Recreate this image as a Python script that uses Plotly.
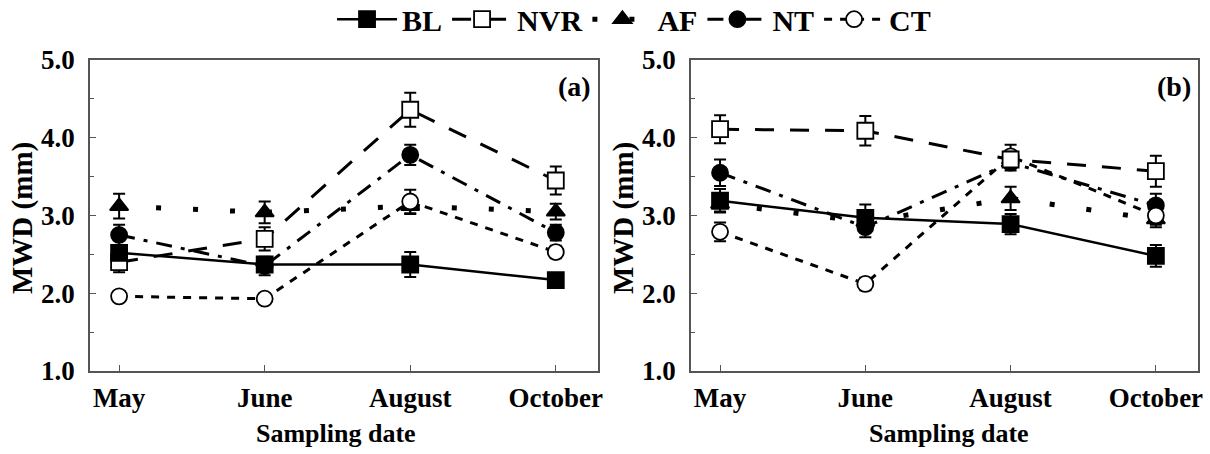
import plotly.graph_objects as go
from plotly.subplots import make_subplots

dates = ["May", "June", "August", "October"]

# Panel (a)
a_BL = [2.52, 2.37, 2.37, 2.17]
a_BL_err = [0.08, 0.07, 0.16, 0.07]
a_NVR = [2.40, 2.70, 4.36, 3.45]
a_NVR_err = [0.13, 0.15, 0.22, 0.18]
a_AF = [3.12, 3.04, 3.12, 3.05]
a_AF_err = [0.16, 0.14, 0.10, 0.10]
a_NT = [2.75, 2.35, 3.78, 2.78]
a_NT_err = [0.13, 0.12, 0.13, 0.10]
a_CT = [1.96, 1.93, 3.18, 2.53]
a_CT_err = [0.05, 0.05, 0.15, 0.08]

# Panel (b)
b_BL = [3.19, 2.97, 2.89, 2.48]
b_BL_err = [0.15, 0.17, 0.13, 0.14]
b_NVR = [4.11, 4.09, 3.72, 3.57]
b_NVR_err = [0.18, 0.19, 0.10, 0.20]
b_AF = [3.15, 2.92, 3.22, 2.95]
b_AF_err = [0.10, 0.10, 0.15, 0.10]
b_NT = [3.55, 2.85, 3.68, 3.13]
b_NT_err = [0.17, 0.13, 0.10, 0.15]
b_CT = [2.79, 2.12, 3.76, 3.00]
b_CT_err = [0.12, 0.08, 0.15, 0.12]

panel_a = {"BL": (a_BL, a_BL_err), "NVR": (a_NVR, a_NVR_err), "AF": (a_AF, a_AF_err),
           "NT": (a_NT, a_NT_err), "CT": (a_CT, a_CT_err)}
panel_b = {"BL": (b_BL, b_BL_err), "NVR": (b_NVR, b_NVR_err), "AF": (b_AF, b_AF_err),
           "NT": (b_NT, b_NT_err), "CT": (b_CT, b_CT_err)}

styles = {
    "BL": dict(dash="solid", width=2.5, symbol="square", fill="black", rank=1),
    "NVR": dict(dash="19px,16px", width=3, symbol="square", fill="white", rank=2),
    "AF": dict(dash="5px,32px", width=5, symbol="triangle-up", fill="black", rank=3),
    "NT": dict(dash="16px,9px,4px,9px", width=3, symbol="circle", fill="black", rank=4),
    "CT": dict(dash="8px,8px", width=3, symbol="circle", fill="white", rank=5),
}
draw_order = ["AF", "NT", "CT", "NVR", "BL"]

FONT = "Liberation Serif"

fig = make_subplots(rows=1, cols=2)

for col, data in ((1, panel_a), (2, panel_b)):
    for nm in draw_order:
        s = styles[nm]
        vals, errs = data[nm]
        fig.add_trace(go.Scatter(
            x=dates, y=vals, name=nm, mode="lines+markers",
            legendrank=s["rank"], showlegend=(col == 1),
            line=dict(color="black", width=s["width"], dash=s["dash"]),
            marker=dict(symbol=s["symbol"], size=16, color=s["fill"],
                        line=dict(color="black", width=1.8)),
            error_y=dict(type="data", array=errs, visible=True, color="black",
                         thickness=2, width=6),
        ), row=1, col=col)

axis_common = dict(showline=True, linecolor="#555555", linewidth=1.5, mirror=True,
                   ticks="inside", tickcolor="#555555", ticklen=6, tickwidth=1.2,
                   showgrid=False, zeroline=False, automargin=False,
                   tickfont=dict(family=FONT, size=27, color="black", weight="bold"))

fig.update_xaxes(**axis_common, type="category", range=[-0.2, 3.29], ticklabelstandoff=2)
fig.update_yaxes(**axis_common, range=[1, 5], dtick=1, tickformat=".1f",
                 ticklabelstandoff=8,
                 minor=dict(ticks="inside", dtick=0.5, ticklen=4, tickcolor="#555555"))

fig.update_layout(
    xaxis=dict(domain=[90 / 1210, 598 / 1210]),
    xaxis2=dict(domain=[691 / 1210, 1198 / 1210]),
    yaxis=dict(domain=[(454 - 371) / 454, (454 - 60) / 454]),
    yaxis2=dict(domain=[(454 - 371) / 454, (454 - 60) / 454]),
    width=1210, height=454,
    margin=dict(l=0, r=0, t=0, b=0, autoexpand=False),
    plot_bgcolor="white", paper_bgcolor="white",
    font=dict(family=FONT, color="black"),
    legend=dict(orientation="h", x=0.524, xanchor="center", y=1.015, yanchor="top",
                font=dict(family=FONT, size=30, color="black", weight="bold"),
                itemwidth=60, tracegroupgap=0, bgcolor="rgba(0,0,0,0)"),
)

ann = []
ann.append(dict(text="(a)", x=0.99, y=0.97, xref="x domain", yref="y domain",
                xanchor="right", yanchor="top", showarrow=False,
                font=dict(family=FONT, size=28, weight="bold", color="black")))
ann.append(dict(text="(b)", x=0.99, y=0.97, xref="x2 domain", yref="y2 domain",
                xanchor="right", yanchor="top", showarrow=False,
                font=dict(family=FONT, size=28, weight="bold", color="black")))
for xc in (336 / 1210, 949 / 1210):
    ann.append(dict(text="Sampling date", x=xc, y=1 - 433 / 454, xref="paper", yref="paper",
                    xanchor="center", yanchor="middle", showarrow=False,
                    font=dict(family=FONT, size=26, weight="bold", color="black")))
for xc in (23 / 1210, 624 / 1210):
    ann.append(dict(text="MWD (mm)", x=xc, y=1 - 218 / 454, xref="paper", yref="paper",
                    xanchor="center", yanchor="middle", textangle=-90, showarrow=False,
                    font=dict(family=FONT, size=29, weight="bold", color="black")))
fig.update_layout(annotations=ann)

fig.write_html("out.html")
